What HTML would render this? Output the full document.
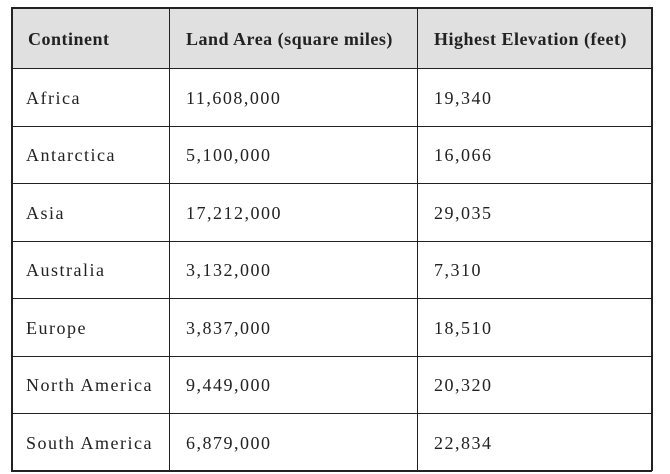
<!DOCTYPE html>
<html><head><style>
body{margin:0;width:670px;height:474px;background:#fff;position:relative;overflow:hidden;font-family:"Liberation Serif",serif;color:#222;}
.h{position:absolute;left:11px;top:7px;width:640px;height:61px;background:#e0e0e0;}
.l{position:absolute;background:#222;}
.t{position:absolute;font-size:18px;line-height:20px;white-space:nowrap;letter-spacing:1.5px;}
.b{font-weight:bold;letter-spacing:0.5px;}
</style></head><body>
<div class="h"></div>
<div class="l" style="left:11px;top:7px;width:641px;height:1.5px"></div>
<div class="l" style="left:11px;top:68px;width:641px;height:1px"></div>
<div class="l" style="left:11px;top:126px;width:641px;height:1px"></div>
<div class="l" style="left:11px;top:183px;width:641px;height:1px"></div>
<div class="l" style="left:11px;top:241px;width:641px;height:1px"></div>
<div class="l" style="left:11px;top:298px;width:641px;height:1px"></div>
<div class="l" style="left:11px;top:356px;width:641px;height:1px"></div>
<div class="l" style="left:11px;top:413px;width:641px;height:1px"></div>
<div class="l" style="left:11px;top:470px;width:641px;height:1.5px"></div>
<div class="l" style="left:11px;top:7px;width:1.5px;height:464px"></div>
<div class="l" style="left:169px;top:7px;width:1px;height:464px"></div>
<div class="l" style="left:417px;top:7px;width:1px;height:464px"></div>
<div class="l" style="left:651px;top:7px;width:1.5px;height:464px"></div>

<div class="t b" style="left:28px;top:29px">Continent</div>
<div class="t b" style="left:186px;top:29px">Land Area (square miles)</div>
<div class="t b" style="left:434px;top:29px">Highest Elevation (feet)</div>

<div class="t" style="left:26px;top:88px">Africa</div>
<div class="t" style="left:186px;top:88px">11,608,000</div>
<div class="t" style="left:434px;top:88px">19,340</div>

<div class="t" style="left:26px;top:145px">Antarctica</div>
<div class="t" style="left:186px;top:145px">5,100,000</div>
<div class="t" style="left:434px;top:145px">16,066</div>

<div class="t" style="left:26px;top:203px">Asia</div>
<div class="t" style="left:186px;top:203px">17,212,000</div>
<div class="t" style="left:434px;top:203px">29,035</div>

<div class="t" style="left:26px;top:260px">Australia</div>
<div class="t" style="left:186px;top:260px">3,132,000</div>
<div class="t" style="left:434px;top:260px">7,310</div>

<div class="t" style="left:26px;top:318px">Europe</div>
<div class="t" style="left:186px;top:318px">3,837,000</div>
<div class="t" style="left:434px;top:318px">18,510</div>

<div class="t" style="left:26px;top:375px">North America</div>
<div class="t" style="left:186px;top:375px">9,449,000</div>
<div class="t" style="left:434px;top:375px">20,320</div>

<div class="t" style="left:26px;top:433px">South America</div>
<div class="t" style="left:186px;top:433px">6,879,000</div>
<div class="t" style="left:434px;top:433px">22,834</div>
</body></html>
